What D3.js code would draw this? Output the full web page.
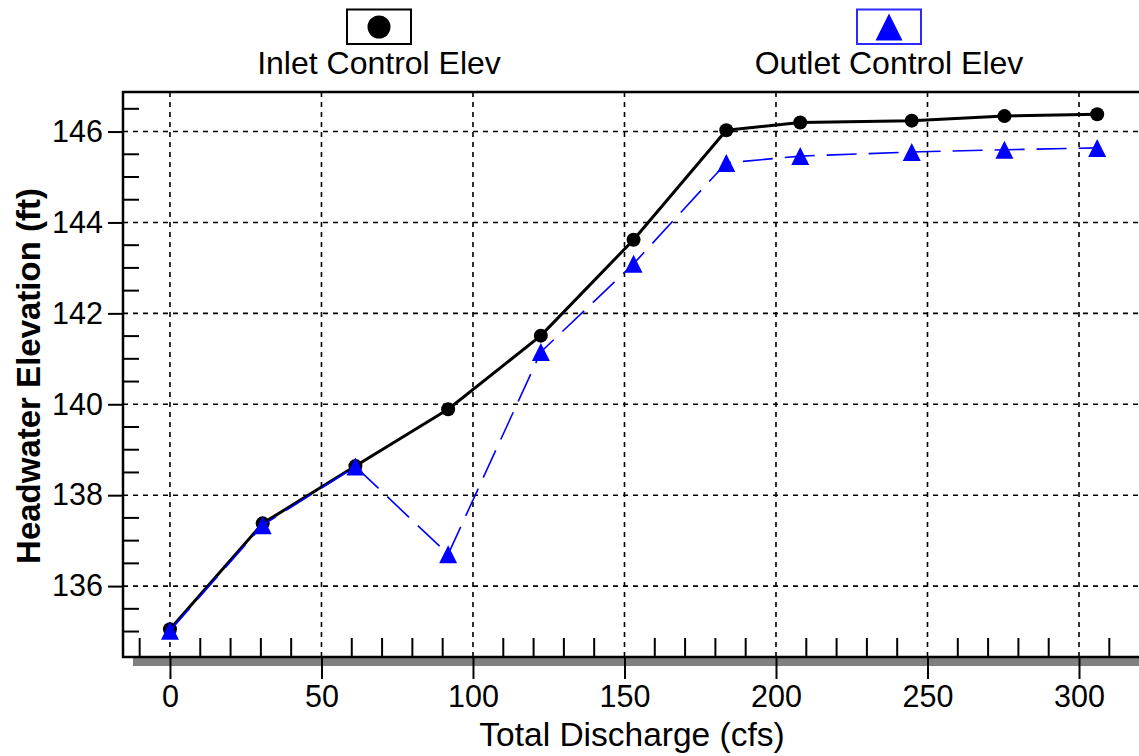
<!DOCTYPE html>
<html>
<head>
<meta charset="utf-8">
<script src="https://cdn.jsdelivr.net/npm/d3@7"></script>
<style>
  html, body { margin: 0; padding: 0; background: #fff; }
  svg { display: block; font-family: "Liberation Sans", Arial, sans-serif; }
</style>
</head>
<body>
<svg id="chart" width="1139" height="756"></svg>
<script>
// Culvert performance: headwater elevation vs. total discharge
const discharge  = [0, 30.6, 61.2, 91.8, 122.4, 153, 183.6, 208, 244.8, 275.4, 306];
const inletElev  = [135.05, 137.38, 138.64, 139.89, 141.51, 143.62, 146.03, 146.20, 146.24, 146.34, 146.38];
const outletElev = [135.02, 137.34, 138.63, 136.70, 141.15, 143.09, 145.31, 145.46, 145.55, 145.60, 145.64];
const xTicks = [0, 50, 100, 150, 200, 250, 300];
const yTicks = [136, 138, 140, 142, 144, 146];
const seriesNames = ["Inlet Control Elev", "Outlet Control Elev"];

const W = 1139, H = 756;
const plot = { left: 123, right: 1139, top: 92, bottom: 657 };

const svg = d3.select("#chart");

const x = d3.scaleLinear().domain([-15.5, 319.8]).range([plot.left, plot.right]);
const y = d3.scaleLinear().domain([134.44, 146.87]).range([plot.bottom, plot.top]);

const blue = "#0000ff";

// minor tick values
const xMinor = d3.range(-10, 320, 10).filter(v => v % 50 !== 0 && x(v) > plot.left + 2 && x(v) < plot.right);
const yMinor = d3.range(134.5, 147, 0.5).filter(v => v % 2 !== 0 && y(v) < plot.bottom - 4 && y(v) > plot.top + 2);

// grid
const grid = svg.append("g").attr("stroke", "#000").attr("stroke-width", 1.6).attr("stroke-dasharray", "5,5");
grid.selectAll("line.v").data(xTicks).join("line")
  .attr("x1", d => x(d)).attr("x2", d => x(d))
  .attr("y1", plot.top).attr("y2", plot.bottom);
grid.selectAll("line.h").data(yTicks).join("line")
  .attr("x1", plot.left).attr("x2", plot.right)
  .attr("y1", d => y(d)).attr("y2", d => y(d));

// shadow under the bottom axis
svg.append("rect")
  .attr("x", plot.left + 10).attr("y", plot.bottom)
  .attr("width", plot.right - plot.left - 10).attr("height", 9)
  .attr("fill", "#808080");

// bottom axis: major ticks outward, labels
const xAxis = d3.axisBottom(x).tickValues(xTicks).tickSize(22).tickPadding(6).tickFormat(d3.format("d"));
const gx = svg.append("g").attr("transform", `translate(0,${plot.bottom})`).call(xAxis);
gx.select(".domain").remove();
gx.selectAll(".tick line").attr("stroke", "#000").attr("stroke-width", 2);
gx.selectAll(".tick text").attr("font-size", 30.5).attr("fill", "#000")
  .attr("font-family", "'Liberation Sans', Arial, sans-serif");

// left axis: major ticks outward, labels
const yAxis = d3.axisLeft(y).tickValues(yTicks).tickSize(15).tickPadding(5).tickFormat(d3.format("d"));
const gy = svg.append("g").attr("transform", `translate(${plot.left},0)`).call(yAxis);
gy.select(".domain").remove();
gy.selectAll(".tick line").attr("stroke", "#000").attr("stroke-width", 2);
gy.selectAll(".tick text").attr("font-size", 30.5).attr("fill", "#000")
  .attr("font-family", "'Liberation Sans', Arial, sans-serif");

// minor ticks pointing into the plot
const minor = svg.append("g").attr("stroke", "#000").attr("stroke-width", 2);
minor.selectAll("line.mx").data(xMinor).join("line")
  .attr("x1", d => x(d)).attr("x2", d => x(d))
  .attr("y1", plot.bottom).attr("y2", plot.bottom - 19);
minor.selectAll("line.my").data(yMinor).join("line")
  .attr("x1", plot.left).attr("x2", plot.left + 16)
  .attr("y1", d => y(d)).attr("y2", d => y(d));

// frame: left, top, bottom
const frame = svg.append("g").attr("stroke", "#000").attr("stroke-width", 2.5).attr("fill", "none");
frame.append("path").attr("d", `M${plot.right},${plot.top}H${plot.left}V${plot.bottom}H${plot.right}`);

// series lines
const inletPts = discharge.map((d, i) => [d, inletElev[i]]);
const outletPts = discharge.map((d, i) => [d, outletElev[i]]);
const line = d3.line().x(d => x(d[0])).y(d => y(d[1]));

svg.append("path").datum(inletPts)
  .attr("d", line).attr("fill", "none")
  .attr("stroke", "#000").attr("stroke-width", 3).attr("stroke-linejoin", "round");

svg.selectAll("circle.inlet").data(inletPts).join("circle")
  .attr("cx", d => x(d[0])).attr("cy", d => y(d[1])).attr("r", 7).attr("fill", "#000");

svg.append("path").datum(outletPts)
  .attr("d", line).attr("fill", "none")
  .attr("stroke", blue).attr("stroke-width", 1.6).attr("stroke-dasharray", "30,12");

const tri = h => `M0,${-h}L${h},${h}L${-h},${h}Z`;
svg.selectAll("path.outlet").data(outletPts).join("path")
  .attr("transform", d => `translate(${x(d[0])},${y(d[1])})`)
  .attr("d", tri(9)).attr("fill", blue);

// legend
const legend = [
  { name: seriesNames[0], cx: 379, color: "#000", marker: "circle" },
  { name: seriesNames[1], cx: 889, color: blue, marker: "triangle" }
];
legend.forEach(l => {
  const g = svg.append("g");
  g.append("rect").attr("x", l.cx - 32).attr("y", 9.5).attr("width", 64).attr("height", 34.5)
    .attr("fill", "#fff").attr("stroke", l.marker === "circle" ? "#000" : "#2a2aff").attr("stroke-width", 2);
  if (l.marker === "circle") {
    g.append("circle").attr("cx", l.cx).attr("cy", 27).attr("r", 11.5).attr("fill", "#000");
  } else {
    g.append("path").attr("transform", `translate(${l.cx},27)`).attr("d", tri(13.5)).attr("fill", blue);
  }
  g.append("text").attr("x", l.cx).attr("y", 74).attr("text-anchor", "middle")
    .attr("font-size", 32).attr("fill", "#000").text(l.name);
});

// axis titles
svg.append("text").attr("x", 632).attr("y", 746).attr("text-anchor", "middle")
  .attr("font-size", 33.5).attr("fill", "#000").text("Total Discharge (cfs)");
svg.append("text")
  .attr("transform", "translate(40,376) rotate(-90)")
  .attr("text-anchor", "middle").attr("font-size", 33).attr("font-weight", "bold")
  .attr("fill", "#000").text("Headwater Elevation (ft)");
</script>
</body>
</html>
